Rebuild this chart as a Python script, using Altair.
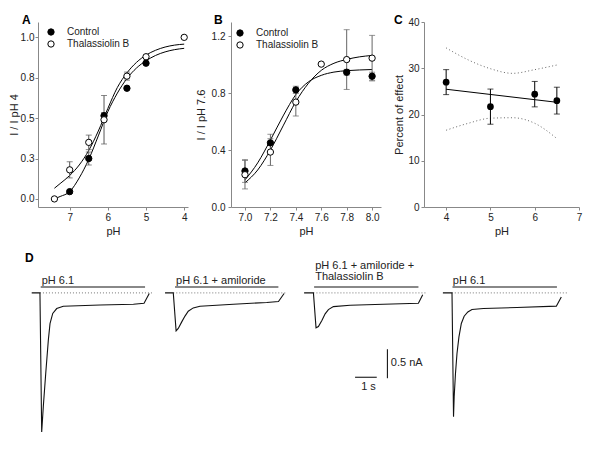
import altair as alt
import pandas as pd

FONT = "Liberation Sans"
GROUPS = ["Control", "Thalassiolin B"]

# ---------------- Panel A ----------------
a_ctrl_ph = [7.0, 6.5, 6.1, 5.5, 5.0]
a_ctrl_val = [0.045, 0.25, 0.515, 0.685, 0.84]
a_ctrl_err = [0.0, 0.04, 0.02, 0.0, 0.0]
a_thal_ph = [7.4, 7.0, 6.5, 6.1, 5.5, 5.0, 4.0]
a_thal_val = [0.0, 0.18, 0.35, 0.49, 0.76, 0.88, 1.0]
a_thal_err = [0.0, 0.05, 0.045, 0.15, 0.025, 0.0, 0.0]
a_fit_ph = [7.4, 7.25, 7.0, 6.75, 6.5, 6.25, 6.0, 5.75, 5.5, 5.25, 5.0, 4.75, 4.5, 4.25, 4.0]
a_fit_ctrl = [0.0, 0.015, 0.045, 0.13, 0.245, 0.39, 0.54, 0.655, 0.745, 0.81, 0.855, 0.888, 0.91, 0.924, 0.932]
a_fit_thal = [0.066, 0.095, 0.145, 0.21, 0.30, 0.42, 0.56, 0.69, 0.78, 0.845, 0.89, 0.92, 0.94, 0.952, 0.958]
a_xticks = [7, 6, 5, 4]
a_yticks = [0.0, 0.25, 0.5, 0.75, 1.0]

# ---------------- Panel B ----------------
b_ctrl_ph = [7.0, 7.2, 7.4, 7.8, 8.0]
b_ctrl_val = [0.253, 0.451, 0.823, 0.947, 0.919]
b_ctrl_err = [0.08, 0.06, 0.025, 0.02, 0.028]
b_thal_ph = [7.0, 7.2, 7.4, 7.6, 7.8, 8.0]
b_thal_val = [0.227, 0.386, 0.737, 1.004, 1.036, 1.046]
b_thal_err = [0.1, 0.094, 0.098, 0.0, 0.21, 0.16]
b_fit_ph = [7.0, 7.1, 7.2, 7.3, 7.4, 7.5, 7.6, 7.7, 7.8, 7.9, 8.0]
b_fit_ctrl = [0.19, 0.31, 0.47, 0.64, 0.79, 0.88, 0.925, 0.948, 0.958, 0.963, 0.966]
b_fit_thal = [0.17, 0.26, 0.40, 0.57, 0.74, 0.87, 0.96, 1.01, 1.037, 1.055, 1.065]
b_xticks = [7.0, 7.2, 7.4, 7.6, 7.8, 8.0]
b_yticks = [0.0, 0.4, 0.8, 1.2]

# ---------------- Panel C ----------------
c_ph = [4.0, 5.0, 6.0, 6.5]
c_val = [27.0, 21.7, 24.4, 23.0]
c_err = [2.7, 3.8, 2.75, 2.9]
c_fit_ph = [4.0, 6.5]
c_fit_val = [25.46, 22.64]
c_band_ph = [4.0, 4.5, 5.0, 5.5, 6.0, 6.5]
c_band_hi = [34.4, 31.8, 29.9, 28.9, 29.7, 30.7]
c_band_lo = [16.6, 18.1, 19.2, 19.3, 18.1, 14.8]
c_xticks = [4, 5, 6, 7]
c_yticks = [0, 10, 20, 30, 40]

# ---------------- Panel D (current traces: time s, current nA) ----------------
tr_names = ["pH 6.1", "pH 6.1 + amiloride", "pH 6.1 + amiloride + Thalassiolin B", "pH 6.1 (wash)"]
tr_offset = [-0.29, 5.858, 12.27, 18.67]
tr1_t = [0, 0.38, 0.46, 0.535, 0.646, 0.766, 0.844, 0.969, 1.153, 1.458, 3.15, 4.69, 5.18, 5.42]
tr1_i = [0, 0, -2.40, -1.96, -1.39, -0.816, -0.53, -0.355, -0.27, -0.23, -0.21, -0.195, -0.18, -0.01]
tr2_t = [0, 0.38, 0.51, 0.61, 0.77, 0.92, 1.07, 1.30, 1.61, 3.15, 4.69, 5.23, 5.49]
tr2_i = [0, 0, -0.655, -0.614, -0.50, -0.40, -0.316, -0.259, -0.229, -0.195, -0.166, -0.149, -0.01]
tr3_t = [0, 0.43, 0.55, 0.66, 0.82, 0.97, 1.12, 1.35, 2.12, 3.66, 5.27, 5.47]
tr3_i = [0, 0, -0.603, -0.581, -0.478, -0.362, -0.288, -0.236, -0.214, -0.196, -0.179, -0.03]
tr4_t = [0, 0.42, 0.49, 0.52, 0.58, 0.65, 0.74, 0.85, 0.98, 1.15, 1.34, 1.87, 3.41, 5.23, 5.46]
tr4_i = [0, 0, -2.138, -1.79, -1.39, -1.045, -0.759, -0.528, -0.402, -0.328, -0.286, -0.269, -0.252, -0.229, -0.069]
bar_on = [0.415, 0.461, 0.461, 0.443]
bar_off = [5.226, 5.226, 5.272, 5.258]
base_on = [0.38, 0.38, 0.43, 0.41]
base_off = [5.61, 5.63, 5.66, 5.72]
tr_labels = [["pH 6.1"], ["pH 6.1 + amiloride"], ["pH 6.1 + amiloride +", "Thalassiolin B"], ["pH 6.1"]]
label_t = [0.46, 0.51, 0.51, 0.46]
scale_nA = 0.5
scale_s = 1.0

# ---------------- helpers ----------------
def pts_df(pc, vc, ec, pt, vt, et):
    rows = []
    for g, ps, vs, es in ((GROUPS[0], pc, vc, ec), (GROUPS[1], pt, vt, et)):
        for p, v, e in zip(ps, vs, es):
            rows.append({"group": g, "ph": p, "val": v, "err": e, "lo": v - e, "hi": v + e})
    return pd.DataFrame(rows)


def fit_df(ph, fc, ft):
    rows = []
    for g, fs in ((GROUPS[0], fc), (GROUPS[1], ft)):
        for k, (p, v) in enumerate(zip(ph, fs)):
            rows.append({"group": g, "ph": p, "val": v, "k": k})
    return pd.DataFrame(rows)


def letter(txt, dx, dy):
    return alt.Chart(pd.DataFrame({"txt": [txt]})).mark_text(
        align="left", baseline="alphabetic", fontSize=12, fontWeight="bold", font=FONT, color="black"
    ).encode(x=alt.value(dx), y=alt.value(dy), text="txt:N")


def sigmoid_panel(pts, fit, xsc, ysc, xax, yax, legend, errcolor="#555"):
    X = lambda: alt.X("ph:Q", scale=xsc, axis=xax)
    Y = lambda f: alt.Y(f, scale=ysc, axis=yax)
    lines = alt.Chart(fit).mark_line(color="black", strokeWidth=1, interpolate="monotone").encode(
        x=X(), y=Y("val:Q"), detail="group:N", order="k:Q")
    ebase = alt.Chart(pts).transform_filter("datum.err > 0")
    err = ebase.mark_rule(color=errcolor, strokeWidth=1).encode(x=X(), y=Y("lo:Q"), y2="hi:Q")
    cap_lo = ebase.mark_tick(color=errcolor, thickness=1, size=6, orient="horizontal").encode(x=X(), y=Y("lo:Q"))
    cap_hi = ebase.mark_tick(color=errcolor, thickness=1, size=6, orient="horizontal").encode(x=X(), y=Y("hi:Q"))
    dots = alt.Chart(pts).mark_point(filled=True, size=40, stroke="black", strokeWidth=1, opacity=1).encode(
        x=X(), y=Y("val:Q"),
        fill=alt.Fill("group:N", scale=alt.Scale(domain=GROUPS, range=["black", "white"]), legend=legend),
        order=alt.Order("order:Q"),
    ).transform_calculate(order="datum.group == 'Control' ? 0 : 1")
    return [lines, err, cap_lo, cap_hi, dots]


def mk_legend(x, y):
    return alt.Legend(title=None, orient="none", legendX=x, legendY=y, symbolType="circle",
                      symbolSize=40, symbolStrokeColor="black", symbolStrokeWidth=1,
                      labelFontSize=10, labelFont=FONT, labelColor="#222", labelOffset=11,
                      rowPadding=0, padding=0)


# ---------------- A ----------------
A = alt.layer(*sigmoid_panel(
    pts_df(a_ctrl_ph, a_ctrl_val, a_ctrl_err, a_thal_ph, a_thal_val, a_thal_err),
    fit_df(a_fit_ph, a_fit_ctrl, a_fit_thal),
    alt.Scale(domain=[3.9, 7.83], reverse=True, nice=False, zero=False),
    alt.Scale(domain=[-0.05, 1.095], nice=False, zero=False),
    alt.Axis(values=a_xticks, format="d", title="pH"),
    alt.Axis(values=a_yticks, format=".1f", title="I / I pH 4", titlePadding=1, labelPadding=1),
    mk_legend(8, 5),
), letter("A", -16, 2)).properties(width=150, height=185)

# ---------------- B ----------------
B = alt.layer(*sigmoid_panel(
    pts_df(b_ctrl_ph, b_ctrl_val, b_ctrl_err, b_thal_ph, b_thal_val, b_thal_err),
    fit_df(b_fit_ph, b_fit_ctrl, b_fit_thal),
    alt.Scale(domain=[6.89, 8.07], nice=False, zero=False),
    alt.Scale(domain=[0, 1.3], nice=False, zero=False),
    alt.Axis(values=b_xticks, format=".1f", title="pH"),
    alt.Axis(values=b_yticks, format=".1f", title="I / I pH 7.6", titlePadding=5, labelPadding=3),
    mk_legend(4, 6),
    errcolor="#666",
), letter("B", -17, 2)).properties(width=150, height=185)

# ---------------- C ----------------
cx = alt.Scale(domain=[3.5, 7.0], nice=False, zero=False)
cy = alt.Scale(domain=[0, 40], nice=False, zero=False)
cxa = alt.Axis(values=c_xticks, format="d", title="pH", labelOverlap=False)
cya = alt.Axis(values=c_yticks, format="d", title="Percent of effect", titlePadding=3, labelPadding=2)
c_pts = pd.DataFrame({"ph": c_ph, "val": c_val, "lo": [v - e for v, e in zip(c_val, c_err)],
                      "hi": [v + e for v, e in zip(c_val, c_err)]})
c_fit = pd.DataFrame({"ph": c_fit_ph, "val": c_fit_val})
c_band = pd.DataFrame({"ph": c_band_ph * 2, "val": c_band_hi + c_band_lo,
                       "side": ["hi"] * len(c_band_ph) + ["lo"] * len(c_band_ph)})
C = alt.layer(
    alt.Chart(c_band).mark_line(color="#666", strokeWidth=1, strokeDash=[1, 2.5], interpolate="monotone").encode(
        x=alt.X("ph:Q", scale=cx, axis=cxa), y=alt.Y("val:Q", scale=cy, axis=cya), detail="side:N"),
    alt.Chart(c_fit).mark_line(color="black", strokeWidth=1).encode(x="ph:Q", y="val:Q"),
    alt.Chart(c_pts).mark_rule(color="black", strokeWidth=1).encode(x="ph:Q", y="lo:Q", y2="hi:Q"),
    alt.Chart(c_pts).mark_tick(color="black", thickness=1, size=6, orient="horizontal").encode(x="ph:Q", y="lo:Q"),
    alt.Chart(c_pts).mark_tick(color="black", thickness=1, size=6, orient="horizontal").encode(x="ph:Q", y="hi:Q"),
    alt.Chart(c_pts).mark_point(filled=True, size=45, color="black", opacity=1).encode(x="ph:Q", y="val:Q"),
    letter("C", -30, 2),
).properties(width=155, height=185)

# ---------------- D ----------------
tr_t = [tr1_t, tr2_t, tr3_t, tr4_t]
tr_i = [tr1_i, tr2_i, tr3_i, tr4_i]
rows = []
for n, (ts, cs) in enumerate(zip(tr_t, tr_i)):
    for k, (t, c) in enumerate(zip(ts, cs)):
        rows.append({"trace": tr_names[n], "t": t + tr_offset[n], "i": c, "k": k})
d_tr = pd.DataFrame(rows)
d_bar = pd.DataFrame({"on": [a + o for a, o in zip(bar_on, tr_offset)],
                      "off": [b + o for b, o in zip(bar_off, tr_offset)], "lvl": [0.103] * 4})
d_base = pd.DataFrame({"on": [a + o for a, o in zip(base_on, tr_offset)],
                       "off": [b + o for b, o in zip(base_off, tr_offset)], "lvl": [0.0] * 4})
lab_rows = []
for n, lines_ in enumerate(tr_labels):
    top = 0.16 + 0.2 * (len(lines_) - 1)
    for j, s in enumerate(lines_):
        lab_rows.append({"t": label_t[n] + tr_offset[n], "i": top - 0.2 * j + (0.06 if len(lines_) > 1 else 0), "txt": s})
d_lab = pd.DataFrame(lab_rows)

SB_T, SB_I = 16.11, -0.972  # scale-bar anchor (layout)
d_vbar = pd.DataFrame({"t": [SB_T], "i": [SB_I], "i2": [SB_I - scale_nA]})
d_hbar = pd.DataFrame({"t": [SB_T - 1.49], "t2": [SB_T - 1.49 + scale_s], "i": [SB_I - 0.483]})
d_sblab = pd.DataFrame({"t": [SB_T + 0.16, SB_T - 0.87], "i": [SB_I - 0.242, SB_I - 0.645],
                        "txt": [f"{scale_nA} nA", f"{scale_s:g} s"]})

D_W = 552
dx = alt.Scale(domain=[0, D_W / 21.687], nice=False, zero=False)
dy = alt.Scale(domain=[-2.71, 0.74], nice=False, zero=False)
D = alt.layer(
    alt.Chart(d_base).mark_rule(color="#777", strokeWidth=1, strokeDash=[1, 2]).encode(
        x=alt.X("on:Q", scale=dx, axis=None), x2="off:Q", y=alt.Y("lvl:Q", scale=dy, axis=None)),
    alt.Chart(d_bar).mark_rule(color="#888", strokeWidth=2).encode(x="on:Q", x2="off:Q", y="lvl:Q"),
    alt.Chart(d_tr).mark_line(color="#111", strokeWidth=1.1).encode(
        x="t:Q", y="i:Q", detail="trace:N", order="k:Q"),
    alt.Chart(d_lab).mark_text(align="left", baseline="alphabetic", fontSize=11, font=FONT, color="#222").encode(
        x="t:Q", y="i:Q", text="txt:N"),
    alt.Chart(d_vbar).mark_rule(color="black", strokeWidth=1).encode(x="t:Q", y="i:Q", y2="i2:Q"),
    alt.Chart(d_hbar).mark_rule(color="black", strokeWidth=1).encode(x="t:Q", x2="t2:Q", y="i:Q"),
    alt.Chart(d_sblab.iloc[[0]]).mark_text(align="left", baseline="middle", fontSize=11, font=FONT, color="#222").encode(
        x="t:Q", y="i:Q", text="txt:N"),
    alt.Chart(d_sblab.iloc[[1]]).mark_text(align="center", baseline="middle", fontSize=11, font=FONT, color="#222").encode(
        x="t:Q", y="i:Q", text="txt:N"),
    letter("D", -13, 12),
).properties(width=D_W, height=200)

top = alt.hconcat(A, B, C, spacing=43, bounds="flush").resolve_scale(fill="independent").resolve_legend(fill="independent")
chart = alt.vconcat(top, D, spacing=14).properties(
    padding={"left": 0, "top": 6, "right": 0, "bottom": 0}
).configure(font=FONT).configure_axis(
    domainColor="#888", tickColor="#888", tickSize=3, labelFontSize=10, titleFontSize=11,
    titleFontWeight="normal", labelColor="#222", titleColor="#222", grid=False,
    labelFlush=False, labelPadding=2, titlePadding=3, labelFont=FONT, titleFont=FONT,
).configure_view(strokeWidth=0)

chart.save("out.html", embed_options={"renderer": "svg", "actions": False})
